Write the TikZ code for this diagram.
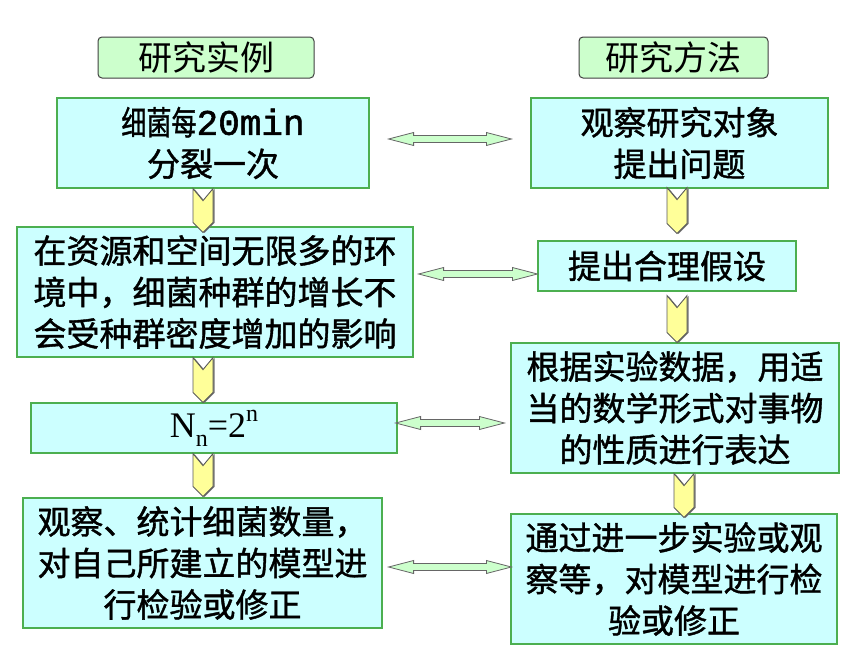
\documentclass[tikz,border=0pt]{standalone}
\usepackage{fontspec}
\usepackage{xcolor}
\usepackage{tikz}
\usetikzlibrary{calc,positioning}
\newfontfamily\cjk[FakeBold=1.2]{Noto Sans CJK SC}
\newfontfamily\headfont{Noto Sans CJK SC}
\newfontfamily\monofont[FakeBold=1.5]{Liberation Mono}
\newfontfamily\nfont{Liberation Serif}
\definecolor{boxfill}{HTML}{CCFFFF}
\definecolor{boxline}{HTML}{4CAF50}
\definecolor{headfill}{HTML}{CCFFCC}
\definecolor{chevfill}{HTML}{FFFF99}
\tikzset{
  box/.style={draw=boxline, fill=boxfill, line width=1.2pt, align=center,
  inner sep=0pt, font=\cjk\fontsize{33}{41.5}\selectfont},
  head/.style={draw=black!75, fill=headfill, rounded corners=4pt, line width=1pt,
  inner sep=0pt, minimum height=41pt, font=\headfont\fontsize{34}{40}\selectfont},
  dblarr/.style={draw=black!60, fill=headfill, line width=0.8pt,
    to path={let \p1=(\tikztostart), \p2=(\tikztotarget) in
      -- (\x1+25,\y1+6.5) -- (\x1+25,\y1+3.5) -- (\x2-25,\y1+3.5)
      -- (\x2-25,\y1+6.5) -- (\x2,\y1) -- (\x2-25,\y1-6.5)
      -- (\x2-25,\y1-3.5) -- (\x1+25,\y1-3.5) -- (\x1+25,\y1-6.5) -- cycle}},
  chev/.style={draw=black!65, fill=chevfill, line width=0.9pt,
    preaction={fill=black!55, transform canvas={xshift=1.5pt,yshift=-0.5pt}},
    to path={let \p1=(\tikztostart), \p2=(\tikztotarget) in
      (\x1-10,\y1) -- (\x1,\y1-12) -- (\x1+10,\y1) -- (\x1+10,\y2+10)
      -- (\x1,\y2) -- (\x1-10,\y2+10) -- cycle}}
}
\begin{document}
\begin{tikzpicture}[x=1pt,y=-1pt]
\fill[white] (0,0) rectangle (860,645);
\useasboundingbox (0,0) rectangle (860,645);
\node[head, minimum width=216pt] (hl) at (206,57.5) {研究实例};
\node[head, minimum width=189pt] (hr) at (673.5,57.5) {研究方法};
\node[box, minimum width=312pt, minimum height=90pt] (l1) at (213,143)
  {\scalebox{0.76}[1]{细菌每}{\monofont\fontsize{36}{36}\selectfont 20min}\\分裂一次};
\node[box, minimum width=396pt, minimum height=130pt] (l2) at (215,292)
  {在资源和空间无限多的环\\境中，细菌种群的增长不\\会受种群密度增加的影响};
\node[box, minimum width=366pt, minimum height=50pt] (l3) at (214,428)
  {\nfont\fontsize{36}{40}\selectfont N\raisebox{-0.25em}{\fontsize{24}{24}\selectfont n}=2\raisebox{0.45em}{\fontsize{24}{24}\selectfont n}};
\node[box, minimum width=359pt, minimum height=130pt] (l4) at (202.5,563)
  {观察、统计细菌数量，\\对自己所建立的模型进\\行检验或修正};
\node[box, minimum width=297pt, minimum height=90pt] (r1) at (679.5,143)
  {观察研究对象\\提出问题};
\node[box, minimum width=258pt, minimum height=50pt] (r2) at (667,266)
  {提出合理假设};
\node[box, minimum width=328pt, minimum height=130pt] (r3) at (675,408)
  {根据实验数据，用适\\当的数学形式对事物\\的性质进行表达};
\node[box, minimum width=326pt, minimum height=130pt] (r4) at (674,579)
  {通过进一步实验或观\\察等，对模型进行检\\验或修正};
\draw[dblarr] ([xshift=19pt,yshift=4pt]l1.east) to ([xshift=-19pt,yshift=4pt]r1.west);
\draw[dblarr] ([xshift=5pt,yshift=18pt]l2.east) to ([yshift=18pt]r2.west);
\draw[dblarr] ([xshift=-2pt,yshift=5pt]l3.east) to ([xshift=-6pt,yshift=5pt]r3.west);
\draw[dblarr] ([xshift=6pt,yshift=-4pt]l4.east) to ([xshift=1pt,yshift=-4pt]r4.west);
\draw[chev] ([xshift=-10pt]l1.south) to ([xshift=-12pt,yshift=-6pt]l2.north);
\draw[chev] ([xshift=-12pt]l2.south) to ([xshift=-11pt]l3.north);
\draw[chev] ([xshift=-11pt]l3.south) to ([xshift=0.5pt,yshift=1pt]l4.north);
\draw[chev] ([xshift=-2.5pt,yshift=1pt]r1.south) to ([xshift=10pt,yshift=7pt]r2.north);
\draw[chev] ([xshift=10pt,yshift=-4pt]r2.south) to ([xshift=2pt]r3.north);
\draw[chev] ([xshift=9pt]r3.south) to ([xshift=10pt,yshift=-4pt]r4.north);
\end{tikzpicture}
\end{document}
